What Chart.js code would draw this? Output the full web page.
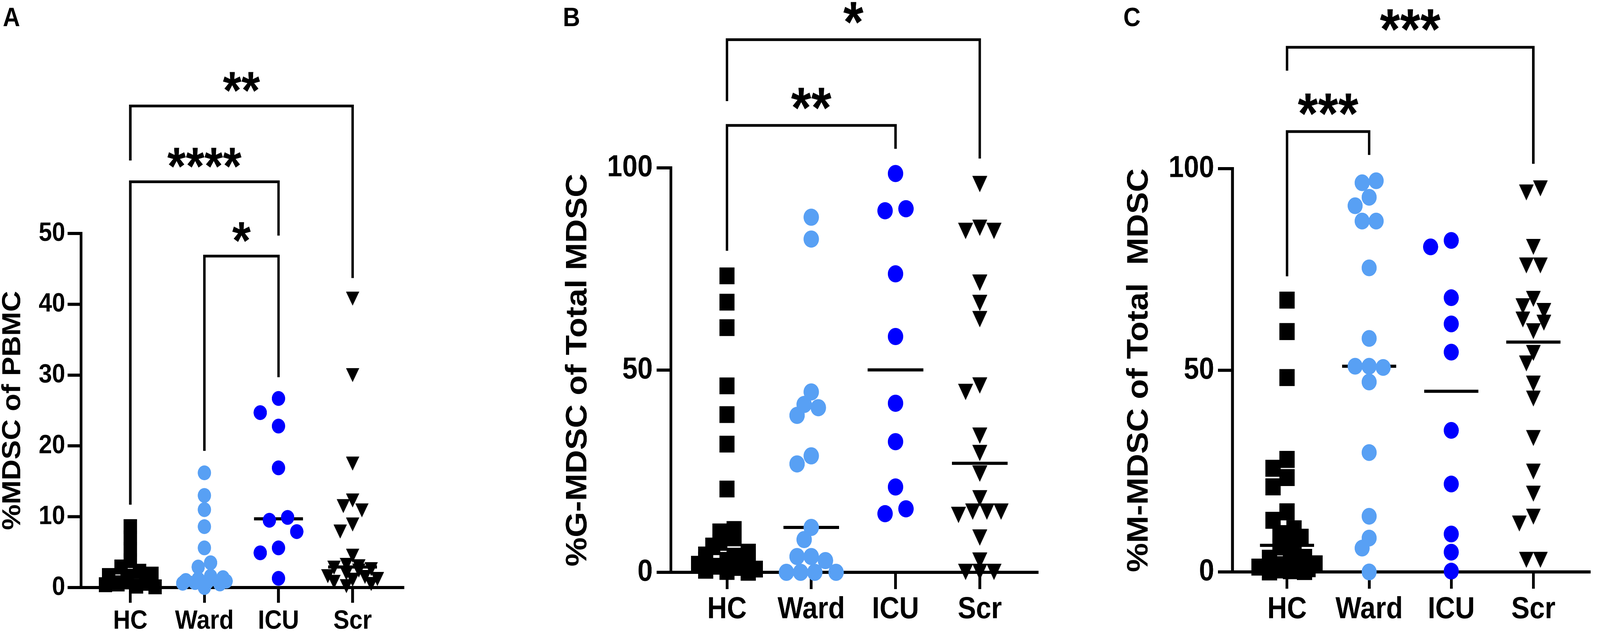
<!DOCTYPE html>
<html>
<head>
<meta charset="utf-8">
<title>MDSC scatter plots</title>
<script src="https://cdn.jsdelivr.net/npm/chart.js@4.4.1/dist/chart.umd.min.js"></script>
<style>
  html, body { margin:0; padding:0; background:#fff; overflow:hidden; }
  #stage { position:absolute; left:0; top:0; width:4562px; height:1624px; transform-origin:0 0; background:#fff; font-family:'Liberation Sans', Arial, sans-serif; }
  .panel { position:absolute; top:0; }
  .letter { position:absolute; top:9px; font-weight:bold; font-size:68px; line-height:68px; color:#000; }
</style>
</head>
<body>
<div id="stage">
<canvas id="chartA" class="panel" style="left:0px;width:1200px;height:1624px"></canvas>
<canvas id="chartB" class="panel" style="left:1607px;width:1393px;height:1624px"></canvas>
<canvas id="chartC" class="panel" style="left:3207px;width:1355px;height:1624px"></canvas>
<div class="letter" style="left:8px">A</div>
<div class="letter" style="left:1605px">B</div>
<div class="letter" style="left:3203px">C</div>
</div>
<script>
// fit the 4562x1624 stage to the whole viewport
(function () {
  const sx = window.innerWidth / 4562, sy = window.innerHeight / 1624;
  if (sx > 0 && sy > 0 && (Math.abs(sx - 1) > 0.002 || Math.abs(sy - 1) > 0.002)) {
    document.getElementById('stage').style.transform = 'scale(' + sx + ',' + sy + ')';
  }
})();

// ---------------- DATA ----------------
const categories = ['HC', 'Ward', 'ICU', 'Scr'];

// Panel A: %MDSC of PBMC
const hcA   = [8.6, 7.0, 5.4, 3.8, 2.9, 2.3, 1.9, 1.7, 1.6, 1.4, 1.2, 1.0, 0.8, 0.6, 0.5, 0.4, 0.2, 0.1];
const wardA = [16.2, 13.0, 11.0, 8.6, 5.6, 3.5, 2.9, 1.6, 1.4, 1.2, 1.0, 0.9, 0.8, 0.7, 0.6, 0.5, 0];
const icuA  = [26.7, 24.7, 22.8, 16.9, 9.9, 9.5, 7.9, 5.6, 4.9, 1.3];
const scrA  = [40.8, 30.0, 17.5, 12.3, 11.5, 10.9, 8.9, 7.9, 4.5, 3.2, 3.0, 2.8, 2.6, 2.4, 2.0, 1.6, 1.5, 1.2, 1.1, 0.8, 0.5, 0.2];
const yTicksA = [0, 10, 20, 30, 40, 50];
const titleA = '%MDSC of PBMC';
const bracketFromA = [0, 0, 1];
const bracketToA = [3, 2, 2];
const bracketTopA = [68.0, 57.3, 46.8];
const bracketLeftEndA = [60.3, 11.7, 19.3];
const bracketRightEndA = [43.7, 49.7, 29.7];
const bracketLabelA = ['**', '****', '*'];

// Panel B: %G-MDSC of Total MDSC
const hcB   = [73.3, 66.8, 60.5, 46.1, 39.0, 31.7, 20.6, 10.6, 10.0, 8.5, 7.4, 6.5, 5.0, 4.3, 4.0, 3.5, 3.0, 2.6, 2.4, 2.0, 1.5, 1.2, 0.8, 0.5, 0.2, 0];
const wardB = [87.8, 82.4, 44.6, 41.5, 40.7, 38.8, 28.8, 26.8, 11.1, 8.1, 3.9, 3.9, 2.9, 0, 0, 0, 0];
const icuB  = [98.6, 89.9, 89.4, 73.8, 58.3, 41.8, 32.3, 21.1, 15.7, 14.5];
const scrB  = [96.0, 85.2, 84.4, 84.4, 71.6, 66.6, 62.6, 46.2, 44.6, 33.8, 29.5, 24.4, 18.3, 15.0, 15.0, 15.0, 14.2, 8.6, 2.9, 0.1, 0.1, 0.1];
const yTicksB = [0, 50, 100];
const titleB = '%G-MDSC of Total MDSC';
const bracketFromB = [0, 0];
const bracketToB = [3, 2];
const bracketTopB = [131.7, 110.5];
const bracketLeftEndB = [116.5, 79.5];
const bracketRightEndB = [102.3, 104.7];
const bracketLabelB = ['*', '**'];

// Panel C: %M-MDSC of Total MDSC
const hcC   = [67.4, 59.6, 48.2, 27.9, 25.7, 23.4, 21.1, 14.9, 12.8, 10.7, 9.5, 8.6, 7.0, 6.2, 3.8, 3.6, 3.4, 2.0, 1.8, 1.6, 1.2, 0.8, 0.5, 0.3, 0.1, 0];
const wardC = [97.0, 96.5, 92.9, 90.8, 87.0, 87.0, 75.4, 57.9, 51.0, 51.0, 50.7, 47.1, 29.6, 13.8, 8.4, 5.9, 0];
const icuC  = [82.2, 80.6, 68.0, 61.5, 54.5, 35.1, 21.8, 9.4, 4.9, 0.2];
const scrC  = [95.1, 94.1, 80.6, 76.0, 76.0, 67.7, 65.9, 64.7, 62.6, 61.8, 59.7, 54.3, 51.7, 46.7, 43.0, 33.2, 24.9, 19.4, 13.7, 12.0, 3.0, 3.0];
const yTicksC = [0, 50, 100];
const titleC = '%M-MDSC of Total  MDSC';
const bracketFromC = [0, 0];
const bracketToC = [3, 1];
const bracketTopC = [130.1, 109.2];
const bracketLeftEndC = [124.3, 73.3];
const bracketRightEndC = [101.2, 103.4];
const bracketLabelC = ['***', '***'];

// ---------------- STYLE ----------------
const FONT = "'Liberation Sans', Arial, sans-serif";
const groupColors = ['#000000', '#58A0F4', '#0000FF', '#000000'];
// per-group scatter spreading: [step multiplier, collision multiplier, half steps allowed]
const swarmStyle = [[0.93, 0.75, true], [0.93, 0.75, true], [1.37, 1.0, false], [0.93, 0.75, true]];
Chart.defaults.font.family = FONT;

function invTriangle(w, h) {
  const k = 2;
  const c = document.createElement('canvas');
  c.width = Math.round(w * k); c.height = Math.round(h * k);
  const g = c.getContext('2d');
  g.fillStyle = '#000';
  g.beginPath(); g.moveTo(0, 0); g.lineTo(c.width, 0); g.lineTo(c.width / 2, c.height); g.closePath(); g.fill();
  // drawn at logical size by Chart.js (image width/height); keep a small copy at logical size
  const out = document.createElement('canvas');
  out.width = Math.round(w); out.height = Math.round(h);
  const o = out.getContext('2d');
  o.imageSmoothingEnabled = true;
  o.drawImage(c, 0, 0, out.width, out.height);
  return out;
}

function median(arr) {
  const s = [...arr].sort((a, b) => a - b); const n = s.length;
  return n % 2 ? s[(n - 1) / 2] : (s[n / 2 - 1] + s[n / 2]) / 2;
}

function swarmOffsets(yp, d, step, maxOff, thr, half) {
  const n = yp.length;
  const order = [...Array(n).keys()].sort((a, b) => yp[a] - yp[b]);
  const off = new Array(n).fill(0);
  const placed = [];
  const h = half ? step / 2 : step;
  const cands = [0];
  for (let k = 1; k * h <= maxOff + 0.01; k++) cands.push(-k * h, k * h);
  for (const i of order) {
    let best = 0, bestD = -1;
    for (const c of cands) {
      let m = Infinity;
      for (const j of placed) {
        const dy = yp[i] - yp[j];
        if (Math.abs(dy) >= thr) continue;
        const dd = Math.hypot(c - off[j], dy);
        if (dd < m) m = dd;
      }
      if (m >= thr) { best = c; break; }
      if (m > bestD + 0.5) { bestD = m; best = c; }
    }
    off[i] = best; placed.push(i);
  }
  let r = 0;
  while (r < n) {
    let e = r;
    while (e + 1 < n && yp[order[e + 1]] - yp[order[r]] < d / 3) e++;
    if (e > r) {
      let mn = Infinity, mx = -Infinity;
      for (let k = r; k <= e; k++) { mn = Math.min(mn, off[order[k]]); mx = Math.max(mx, off[order[k]]); }
      const sh = (mn + mx) / 2;
      for (let k = r; k <= e; k++) off[order[k]] -= sh;
    }
    r = e + 1;
  }
  return off;
}

function bracketPlugin(p) {
  return {
    id: 'brackets',
    afterDraw(chart) {
      const ctx = chart.ctx, xs = chart.scales.x, ys = chart.scales.y;
      ctx.save();
      ctx.strokeStyle = '#000'; ctx.fillStyle = '#000';
      ctx.lineWidth = p.bracketWidth; ctx.lineJoin = 'miter'; ctx.lineCap = 'butt';
      p.bFrom.forEach((f, i) => {
        const x1 = xs.getPixelForValue(f), x2 = xs.getPixelForValue(p.bTo[i]);
        const yt = ys.getPixelForValue(p.bTop[i]);
        ctx.beginPath();
        ctx.moveTo(x1, ys.getPixelForValue(p.bLeft[i]));
        ctx.lineTo(x1, yt); ctx.lineTo(x2, yt);
        ctx.lineTo(x2, ys.getPixelForValue(p.bRight[i]));
        ctx.stroke();
        ctx.font = 'bold ' + p.starSize + 'px ' + FONT;
        ctx.textAlign = 'center'; ctx.textBaseline = 'alphabetic';
        ctx.fillText(p.bLabel[i], (x1 + x2) / 2, yt - p.starGap + p.starSize * 0.49);
      });
      ctx.restore();
    }
  };
}

function buildChart(p) {
  const cv = document.getElementById(p.id);
  cv.width = p.w; cv.height = 1624;
  const datasets = p.groups.map((vals, g) => ({
    label: categories[g],
    data: vals.map(v => ({ x: g, y: v })),
    pointStyle: p.shapes[g],
    pointRadius: p.radii[g],
    pointHoverRadius: p.radii[g],
    backgroundColor: groupColors[g],
    borderColor: groupColors[g],
    pointBorderWidth: 0,
    borderWidth: 0,
    showLine: false,
    clip: false,
    order: 1
  }));
  p.groups.forEach((vals, g) => {
    const m = median(vals);
    datasets.push({
      label: categories[g] + ' median',
      data: [{ x: g - 0.33, y: m }, { x: g + 0.33, y: m }],
      showLine: true, borderColor: '#000', backgroundColor: '#000',
      borderWidth: p.medianWidth, pointRadius: 0, pointHoverRadius: 0,
      borderCapStyle: 'butt', clip: false, order: 2
    });
  });
  const tickFont = { size: p.tickFont, weight: 'bold', family: FONT };
  const chart = new Chart(cv, {
    type: 'scatter',
    data: { datasets },
    options: {
      responsive: false, maintainAspectRatio: false, animation: false, devicePixelRatio: 2,
      layout: { padding: { left: 0, right: p.padRight, top: p.padTop, bottom: 0 } },
      plugins: { legend: { display: false }, tooltip: { enabled: false } },
      events: [],
      scales: {
        x: {
          type: 'linear', min: -0.665, max: 3.68,
          afterBuildTicks: s => { s.ticks = categories.map((c, i) => ({ value: i })); },
          afterFit: s => { s.height = p.xAxisH; },
          ticks: { callback: v => categories[v] ?? '', font: tickFont, color: '#000', padding: p.xTickPad, autoSkip: false, maxRotation: 0, minRotation: 0 },
          grid: { display: true, drawOnChartArea: false, drawTicks: true, tickLength: p.xTickLen, tickWidth: p.axisW, lineWidth: p.axisW, tickColor: '#000', color: '#000' },
          border: { display: true, color: '#000', width: p.axisW }
        },
        y: {
          type: 'linear', min: 0, max: p.yMax,
          afterBuildTicks: s => { s.ticks = p.yTicks.map(v => ({ value: v })); },
          afterFit: s => { s.width = p.yAxisW; },
          ticks: { font: tickFont, color: '#000', padding: p.yTickPad },
          grid: { display: true, drawOnChartArea: false, drawTicks: true, tickLength: p.yTickLen, tickWidth: p.axisW, lineWidth: p.axisW, tickColor: '#000', color: '#000' },
          border: { display: true, color: '#000', width: p.axisW },
          title: { display: true, text: p.title, color: '#000', font: { size: p.titleFont, weight: 'bold', family: FONT, lineHeight: 1 }, padding: { top: 0, bottom: 0 } }
        }
      }
    },
    plugins: [bracketPlugin(p)]
  });
  // beeswarm horizontal spread, computed through the chart's own scales
  const xs = chart.scales.x, ys = chart.scales.y;
  const unit = xs.getPixelForValue(1) - xs.getPixelForValue(0);
  p.groups.forEach((vals, g) => {
    const [sm, tm, half] = swarmStyle[g];
    const yp = vals.map(v => ys.getPixelForValue(v));
    const step = p.markD * sm;
    const off = swarmOffsets(yp, p.markD, step, half ? step * 2 : step, p.markD * tm, half);
    chart.data.datasets[g].data = vals.map((v, i) => ({ x: g + off[i] / unit, y: v }));
  });
  chart.update('none');
  return chart;
}

buildChart({
  id: 'chartA', w: 1200, groups: [hcA, wardA, icuA, scrA], yMax: 50, yTicks: yTicksA, title: titleA,
  bFrom: bracketFromA, bTo: bracketToA, bTop: bracketTopA, bLeft: bracketLeftEndA, bRight: bracketRightEndA, bLabel: bracketLabelA,
  shapes: ['rect', 'circle', 'circle', invTriangle(38, 36)], radii: [27, 19, 19, 19], markD: 38,
  padRight: 51, padTop: 598, xAxisH: 119, yAxisW: 231,
  tickFont: 68, titleFont: 74, xTickPad: 7, yTickPad: 7, xTickLen: 39, yTickLen: 38,
  axisW: 8, medianWidth: 8, bracketWidth: 7, starSize: 136, starGap: 60
});
buildChart({
  id: 'chartB', w: 1393, groups: [hcB, wardB, icuB, scrB], yMax: 100, yTicks: yTicksB, title: titleB,
  bFrom: bracketFromB, bTo: bracketToB, bTop: bracketTopB, bLeft: bracketLeftEndB, bRight: bracketRightEndB, bLabel: bracketLabelB,
  shapes: ['rect', 'circle', 'circle', invTriangle(43, 42)], radii: [30.4, 22, 22, 22], markD: 43.5,
  padRight: 43, padTop: 430, xAxisH: 158, yAxisW: 306,
  tickFont: 78, titleFont: 84, xTickPad: 6, yTickPad: 11, xTickLen: 43, yTickLen: 41,
  axisW: 8, medianWidth: 8, bracketWidth: 7, starSize: 148, starGap: 67
});
buildChart({
  id: 'chartC', w: 1355, groups: [hcC, wardC, icuC, scrC], yMax: 100, yTicks: yTicksC, title: titleC,
  bFrom: bracketFromC, bTo: bracketToC, bTop: bracketTopC, bLeft: bracketLeftEndC, bRight: bracketRightEndC, bLabel: bracketLabelC,
  shapes: ['rect', 'circle', 'circle', invTriangle(42, 41)], radii: [30.8, 21.5, 21.5, 21.5], markD: 43,
  padRight: 2, padTop: 432, xAxisH: 159, yAxisW: 307,
  tickFont: 78, titleFont: 84, xTickPad: 7, yTickPad: 11, xTickLen: 43, yTickLen: 41,
  axisW: 8, medianWidth: 8, bracketWidth: 7, starSize: 148, starGap: 68
});
</script>
</body>
</html>
